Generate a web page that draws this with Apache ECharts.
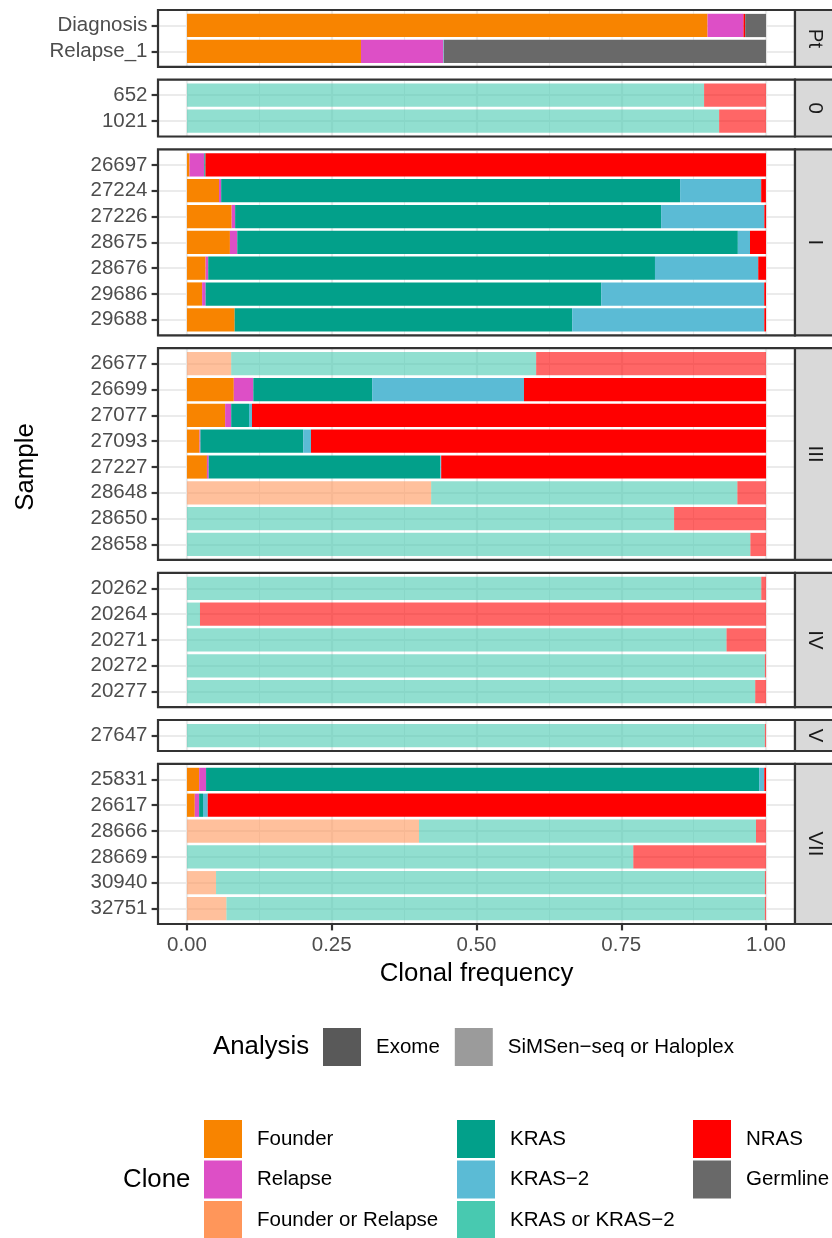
<!DOCTYPE html>
<html>
<head>
<meta charset="utf-8">
<script src="https://cdn.jsdelivr.net/npm/echarts@6/dist/echarts.min.js"></script>
<style>
html,body{margin:0;padding:0;background:#ffffff;}
#chart{width:832px;height:1238px;}
</style>
</head>
<body>
<div id="chart"></div>
<script>
// ---------------- DATA ----------------
const samples = ['Diagnosis','Relapse_1','652','1021','26697','27224','27226','28675','28676','29686','29688',
  '26677','26699','27077','27093','27227','28648','28650','28658',
  '20262','20264','20271','20272','20277','27647',
  '25831','26617','28666','28669','30940','32751'];
const facetOf = ['Pt','Pt','0','0','I','I','I','I','I','I','I',
  'III','III','III','III','III','III','III','III',
  'IV','IV','IV','IV','IV','V',
  'VII','VII','VII','VII','VII','VII'];
const analysis = ['Exome','Exome','SiMSen','SiMSen','Exome','Exome','Exome','Exome','Exome','Exome','Exome',
  'SiMSen','Exome','Exome','Exome','Exome','SiMSen','SiMSen','SiMSen',
  'SiMSen','SiMSen','SiMSen','SiMSen','SiMSen','SiMSen',
  'Exome','Exome','SiMSen','SiMSen','SiMSen','SiMSen'];
const facets = ['Pt','0','I','III','IV','V','VII'];
const clones = ['Founder','Relapse','Founder or Relapse','KRAS','KRAS\u22122','KRAS or KRAS\u22122','NRAS','Germline'];
const analysisLabels = ['Exome','SiMSen\u2212seq or Haloplex'];
const xTicks = [0, 0.25, 0.5, 0.75, 1];

const founder          = [0.899,0.3005, 0,0, 0.0045,0.0554,0.0772,0.0742,0.0322,0.0262,0.0824, 0,0.0809,0.0659,0.0217,0.0345,0,0,0, 0,0,0,0,0, 0, 0.021,0.0135,0,0,0,0];
const relapse          = [0.062,0.142, 0,0, 0.0255,0.0037,0.006,0.0127,0.0045,0.006,0, 0,0.0337,0.0105,0.0015,0.003,0,0,0, 0,0,0,0,0, 0, 0.012,0.0075,0,0,0,0];
const founderOrRelapse = [0,0, 0,0, 0,0,0,0,0,0,0, 0.0764,0,0,0,0,0.4217,0,0, 0,0,0,0,0, 0, 0,0,0.4007,0,0.0502,0.0682];
const kras             = [0,0, 0,0, 0.002,0.7925,0.7356,0.8644,0.7715,0.6831,0.5828, 0,0.2052,0.0307,0.1775,0.40,0,0,0, 0,0,0,0,0, 0, 0.955,0.0067,0,0,0,0];
const kras2            = [0,0.001, 0,0, 0,0.140,0.1783,0.021,0.1783,0.2816,0.3318, 0,0.2622,0.0052,0.0135,0.0015,0,0,0, 0,0,0,0,0, 0, 0.009,0.0082,0,0,0,0];
const krasOrKras2      = [0,0, 0.893,0.919, 0,0,0,0,0,0,0, 0.5266,0,0,0,0,0.5288,0.8412,0.973, 0.9918,0.0225,0.9318,0.998,0.9813, 0.998, 0,0,0.582,0.7708,0.9478,0.9298];
const nras             = [0.003,0, 0.107,0.081, 0.968,0.0082,0.003,0.0277,0.0135,0.003,0.003, 0.397,0.418,0.8877,0.7858,0.561,0.0495,0.1588,0.027, 0.0082,0.9775,0.0682,0.002,0.0187, 0.002, 0.003,0.964,0.0173,0.2292,0.002,0.002];
const germline         = [0.036,0.5565, 0,0, 0,0,0,0,0,0,0, 0,0,0,0,0,0,0,0, 0,0,0,0,0, 0, 0,0,0,0,0,0];

// ---------------- STYLE / LAYOUT ----------------
const cloneValues = [founder, relapse, founderOrRelapse, kras, kras2, krasOrKras2, nras, germline];
const cloneColors = ['#F88400','#DD4FC6','#FF965A','#02A08A','#5BBBD5','#48C9B0','#FF0000','#696969'];
const FONT = '"Liberation Sans", Arial, Helvetica, sans-serif';
const TICK_FS = 20.5, TITLE_FS = 25.8;
const PANEL_L = 158, PANEL_R = 795, TOP = 10, BOTTOM = 924, GAP = 12.9;

const counts = facets.map(f => facetOf.filter(x => x === f).length);
const totalUnits = counts.reduce((a, n) => a + n + 0.2, 0);
const u = (BOTTOM - TOP - GAP * (facets.length - 1)) / totalUnits;

const grids = [], xAxes = [], yAxes = [], series = [], graphics = [];
let cursor = TOP;
facets.forEach((f, fi) => {
  const n = counts[fi];
  const h = (n + 0.2) * u;
  const top = cursor;
  cursor += h + GAP;
  const last = fi === facets.length - 1;
  const idx = facetOf.map((x, i) => x === f ? i : -1).filter(i => i >= 0);
  const names = idx.map(i => samples[i]);

  // frame grid (grid lines)
  grids.push({left: PANEL_L, top: top, width: PANEL_R - PANEL_L, height: h,
    show: false, containLabel: false, outerBoundsMode: 'none'});
  // data grid
  grids.push({left: PANEL_L, top: top + 0.1 * u, width: PANEL_R - PANEL_L, height: n * u,
    show: false, containLabel: false, outerBoundsMode: 'none'});

  const gFrame = 2 * fi, gData = 2 * fi + 1;
  // major x
  xAxes.push({type: 'value', gridIndex: gFrame, min: -0.05, max: 1.05, minInterval: 0.25, maxInterval: 0.25,
    position: 'bottom', axisLine: {show: false, onZero: false},
    splitLine: {show: true, lineStyle: {color: '#EBEBEB', width: 2.2}},
    axisTick: last ? {show: true, customValues: xTicks, length: 6.4, lineStyle: {color: '#333333', width: 2.2}} : {show: false},
    axisLabel: last ? {show: true, customValues: xTicks, formatter: v => Number(v).toFixed(2),
      color: '#4D4D4D', fontSize: TICK_FS, fontFamily: FONT, margin: 10.5} : {show: false},
    name: last ? 'Clonal frequency' : '', nameLocation: 'middle', nameGap: 37,
    nameTextStyle: {color: '#000000', fontSize: TITLE_FS, fontFamily: FONT}
  });
  // minor x
  xAxes.push({type: 'value', gridIndex: gFrame, min: -0.05, max: 1.05, minInterval: 0.125, maxInterval: 0.125,
    position: 'bottom', axisLine: {show: false, onZero: false}, axisTick: {show: false}, axisLabel: {show: false},
    splitLine: {show: true, lineStyle: {color: '#EBEBEB', width: 1.1}}});
  // data x
  xAxes.push({type: 'value', gridIndex: gData, min: -0.05, max: 1.05, show: false, axisLine: {onZero: false}});
  // frame y (row grid lines)
  yAxes.push({type: 'value', gridIndex: gFrame, min: -0.6, max: n - 0.4, minInterval: 1, maxInterval: 1, inverse: true,
    axisLine: {show: false, onZero: false}, axisTick: {show: false}, axisLabel: {show: false},
    splitLine: {show: true, lineStyle: {color: '#EBEBEB', width: 2.2}}});
  // data y (categories)
  yAxes.push({type: 'category', gridIndex: gData, data: names, inverse: true, position: 'left',
    axisLine: {show: false, onZero: false}, splitLine: {show: false},
    axisTick: {show: true, alignWithLabel: true, interval: 0, length: 6.4, lineStyle: {color: '#333333', width: 2.2}},
    axisLabel: {interval: 0, color: '#4D4D4D', fontSize: TICK_FS, fontFamily: FONT, margin: 10.5}});

  const xi = 3 * fi + 2, yi = 2 * fi + 1;
  clones.forEach((c, ci) => {
    series.push({
      type: 'bar', name: c, xAxisIndex: xi, yAxisIndex: yi, stack: 'facet' + fi,
      barWidth: 0.9 * u, itemStyle: {color: cloneColors[ci]},
      emphasis: {disabled: true}, silent: true,
      data: idx.map(i => ({value: cloneValues[ci][i], itemStyle: {opacity: analysis[i] === 'Exome' ? 1 : 0.6}}))
    });
  });

  // panel border
  graphics.push({type: 'rect', shape: {x: PANEL_L, y: top, width: PANEL_R - PANEL_L, height: h},
    style: {fill: 'none', stroke: '#333333', lineWidth: 2.2}, z: 10, silent: true});
  // strip
  graphics.push({type: 'rect', shape: {x: PANEL_R, y: top, width: 50, height: h},
    style: {fill: '#D9D9D9', stroke: '#333333', lineWidth: 2.2}, z: 10, silent: true});
  graphics.push({type: 'text', x: 815, y: top + h / 2, rotation: -Math.PI / 2, z: 11, silent: true,
    style: {text: f, fill: '#1A1A1A', font: TICK_FS + 'px ' + FONT, textAlign: 'center', textVerticalAlign: 'middle'}});
});

// dummy series for analysis legend
series.push({type: 'line', name: analysisLabels[0], xAxisIndex: 2, yAxisIndex: 1, data: [], color: '#595959',
  itemStyle: {color: '#595959'}, lineStyle: {color: '#595959'}});
series.push({type: 'line', name: analysisLabels[1], xAxisIndex: 2, yAxisIndex: 1, data: [], color: '#9B9B9B',
  itemStyle: {color: '#9B9B9B'}, lineStyle: {color: '#9B9B9B'}});

// axis title / legend titles
graphics.push({type: 'text', x: 26, y: (TOP + BOTTOM) / 2, rotation: Math.PI / 2,
  style: {text: 'Sample', fill: '#000000', font: TITLE_FS + 'px ' + FONT, textAlign: 'center', textVerticalAlign: 'middle'}});
graphics.push({type: 'text', x: 213, y: 1047,
  style: {text: 'Analysis', fill: '#000000', font: TITLE_FS + 'px ' + FONT, textAlign: 'left', textVerticalAlign: 'middle'}});
graphics.push({type: 'text', x: 123, y: 1180,
  style: {text: 'Clone', fill: '#000000', font: TITLE_FS + 'px ' + FONT, textAlign: 'left', textVerticalAlign: 'middle'}});

const legendBase = {icon: 'rect', itemWidth: 38, itemHeight: 38, padding: 0, selectedMode: false,
  textStyle: {color: '#000000', fontSize: TICK_FS, fontFamily: FONT, padding: [0, 0, 0, 10]}};
const legends = [
  Object.assign({}, legendBase, {orient: 'horizontal', left: 323, top: 1028, itemGap: 15, data: analysisLabels}),
  Object.assign({}, legendBase, {orient: 'vertical', left: 204, top: 1120, height: 200, itemGap: 2.5, data: clones.slice(0, 3)}),
  Object.assign({}, legendBase, {orient: 'vertical', left: 457, top: 1120, height: 200, itemGap: 2.5, data: clones.slice(3, 6)}),
  Object.assign({}, legendBase, {orient: 'vertical', left: 693, top: 1120, height: 200, itemGap: 2.5, data: clones.slice(6, 8)})
];

const chart = echarts.init(document.getElementById('chart'), null, {renderer: 'canvas'});
chart.setOption({
  animation: false,
  backgroundColor: '#ffffff',
  textStyle: {fontFamily: FONT},
  grid: grids,
  xAxis: xAxes,
  yAxis: yAxes,
  legend: legends,
  tooltip: {show: false},
  series: series,
  graphic: graphics
});
</script>
</body>
</html>
